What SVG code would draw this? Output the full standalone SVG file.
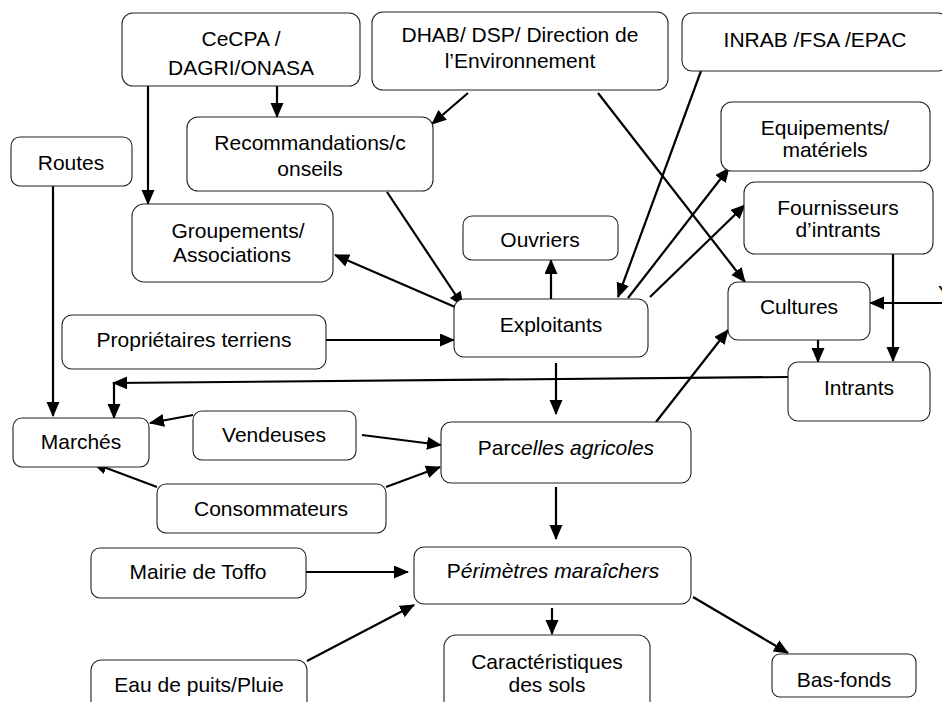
<svg xmlns="http://www.w3.org/2000/svg" width="942" height="702" viewBox="0 0 942 702">
<defs>
<marker id="ah" markerUnits="userSpaceOnUse" markerWidth="16" markerHeight="14" refX="14" refY="6.5" orient="auto">
<path d="M0,0 L15,6.5 L0,13 z" fill="#000"/>
</marker>
<style>
.box{fill:#fff;stroke:#222;stroke-width:1.1}
.t{font-family:"Liberation Sans",Arial,sans-serif;font-size:21px;fill:#000;text-anchor:middle}
.c line,.c path{stroke:#000;stroke-width:2.2;fill:none}
.a{marker-end:url(#ah)}
.i{font-style:italic}
</style>
</defs>
<rect width="942" height="702" fill="#fff"/>

<g class="c">
<line class="a" x1="148" y1="86" x2="148" y2="204"/>
<line class="a" x1="277" y1="86" x2="277" y2="117"/>
<line class="a" x1="468" y1="93" x2="432" y2="124"/>
<line class="a" x1="598" y1="93" x2="745" y2="282"/>
<line class="a" x1="701" y1="71" x2="618" y2="297"/>
<line class="a" x1="628" y1="298" x2="729" y2="168"/>
<line class="a" x1="650" y1="297" x2="745" y2="205"/>
<line class="a" x1="387" y1="192" x2="463" y2="306"/>
<line class="a" x1="455" y1="307" x2="335" y2="255"/>
<line class="a" x1="551" y1="299" x2="551" y2="260"/>
<line class="a" x1="326" y1="340" x2="454" y2="340"/>
<line class="a" x1="556" y1="363" x2="556" y2="414"/>
<line class="a" x1="788" y1="377" x2="113" y2="383"/>
<line class="a" x1="114" y1="382" x2="114" y2="418"/>
<line class="a" x1="53" y1="186" x2="53" y2="416"/>
<line class="a" x1="193" y1="415" x2="150" y2="423"/>
<line class="a" x1="362" y1="435" x2="441" y2="445"/>
<line class="a" x1="157" y1="487" x2="93" y2="463"/>
<line class="a" x1="386" y1="487" x2="440" y2="467"/>
<line class="a" x1="656" y1="422" x2="728" y2="330"/>
<line class="a" x1="818" y1="340" x2="818" y2="362"/>
<line class="a" x1="893" y1="254" x2="893" y2="361"/>
<line class="a" x1="942" y1="303" x2="870" y2="303"/>
<line class="a" x1="556" y1="487" x2="556" y2="539"/>
<line class="a" x1="306" y1="572" x2="408" y2="572"/>
<line class="a" x1="307" y1="661" x2="414" y2="605"/>
<line class="a" x1="552" y1="608" x2="552" y2="634"/>
<line class="a" x1="693" y1="597" x2="788" y2="653"/>
</g>

<g id="cecpa"><rect class="box" x="122" y="13" width="238" height="73" rx="11"/><text class="t" x="241" y="46">CeCPA /</text><text class="t" x="241" y="75">DAGRI/ONASA</text></g>
<g id="dhab"><rect class="box" x="372" y="12" width="296" height="78" rx="11"/><text class="t" x="520" y="42">DHAB/ DSP/ Direction de</text><text class="t" x="520" y="68">l’Environnement</text></g>
<g id="inrab"><rect class="box" x="682" y="13" width="266" height="58" rx="10"/><text class="t" x="815" y="47">INRAB /FSA /EPAC</text></g>
<g id="reco"><rect class="box" x="187" y="117" width="246" height="74" rx="11"/><text class="t" x="310" y="150">Recommandations/c</text><text class="t" x="310" y="176">onseils</text></g>
<g id="routes"><rect class="box" x="11" y="137" width="121" height="49" rx="9"/><text class="t" x="71" y="170">Routes</text></g>
<g id="groupements"><rect class="box" x="132" y="204" width="201" height="78" rx="12"/><text class="t" x="238" y="238">Groupements/</text><text class="t" x="232" y="262">Associations</text></g>
<g id="equipements"><rect class="box" x="721" y="102" width="209" height="69" rx="11"/><text class="t" x="825" y="135">Equipements/</text><text class="t" x="825" y="157">matériels</text></g>
<g id="fournisseurs"><rect class="box" x="744" y="182" width="189" height="72" rx="11"/><text class="t" x="838" y="215">Fournisseurs</text><text class="t" x="838" y="237">d’intrants</text></g>
<g id="ouvriers"><rect class="box" x="463" y="216" width="155" height="44" rx="9"/><text class="t" x="540" y="247">Ouvriers</text></g>
<g id="exploitants"><rect class="box" x="454" y="299" width="194" height="58" rx="10"/><text class="t" x="551" y="332">Exploitants</text></g>
<g id="proprietaires"><rect class="box" x="62" y="315" width="264" height="54" rx="10"/><text class="t" x="194" y="347">Propriétaires terriens</text></g>
<g id="cultures"><rect class="box" x="728" y="282" width="142" height="58" rx="10"/><text class="t" x="799" y="314">Cultures</text></g>
<g id="intrants"><rect class="box" x="788" y="362" width="142" height="59" rx="10"/><text class="t" x="859" y="395">Intrants</text></g>
<g id="marches"><rect class="box" x="13" y="418" width="136" height="49" rx="9"/><text class="t" x="81" y="449">Marchés</text></g>
<g id="vendeuses"><rect class="box" x="193" y="411" width="163" height="49" rx="9"/><text class="t" x="274" y="442">Vendeuses</text></g>
<g id="parcelles"><rect class="box" x="441" y="422" width="250" height="61" rx="10"/><text class="t" x="566" y="455">Parc<tspan class="i">elles agricoles</tspan></text></g>
<g id="consommateurs"><rect class="box" x="157" y="484" width="229" height="49" rx="9"/><text class="t" x="271" y="516">Consommateurs</text></g>
<g id="mairie"><rect class="box" x="91" y="548" width="215" height="50" rx="9"/><text class="t" x="198" y="579">Mairie de Toffo</text></g>
<g id="perimetres"><rect class="box" x="414" y="547" width="277" height="57" rx="10"/><text class="t" x="553" y="578">P<tspan class="i">érimètres maraîchers</tspan></text></g>
<g id="eau"><rect class="box" x="91" y="660" width="216" height="56" rx="10"/><text class="t" x="199" y="692">Eau de puits/Pluie</text></g>
<g id="caracteristiques"><rect class="box" x="444" y="635" width="206" height="80" rx="12"/><text class="t" x="547" y="669">Caractéristiques</text><text class="t" x="547" y="692">des sols</text></g>
<g id="basfonds"><rect class="box" x="772" y="654" width="144" height="43" rx="8"/><text class="t" x="844" y="687">Bas-fonds</text></g>
<text class="t" x="938" y="300" style="text-anchor:start">Y</text>
</svg>
